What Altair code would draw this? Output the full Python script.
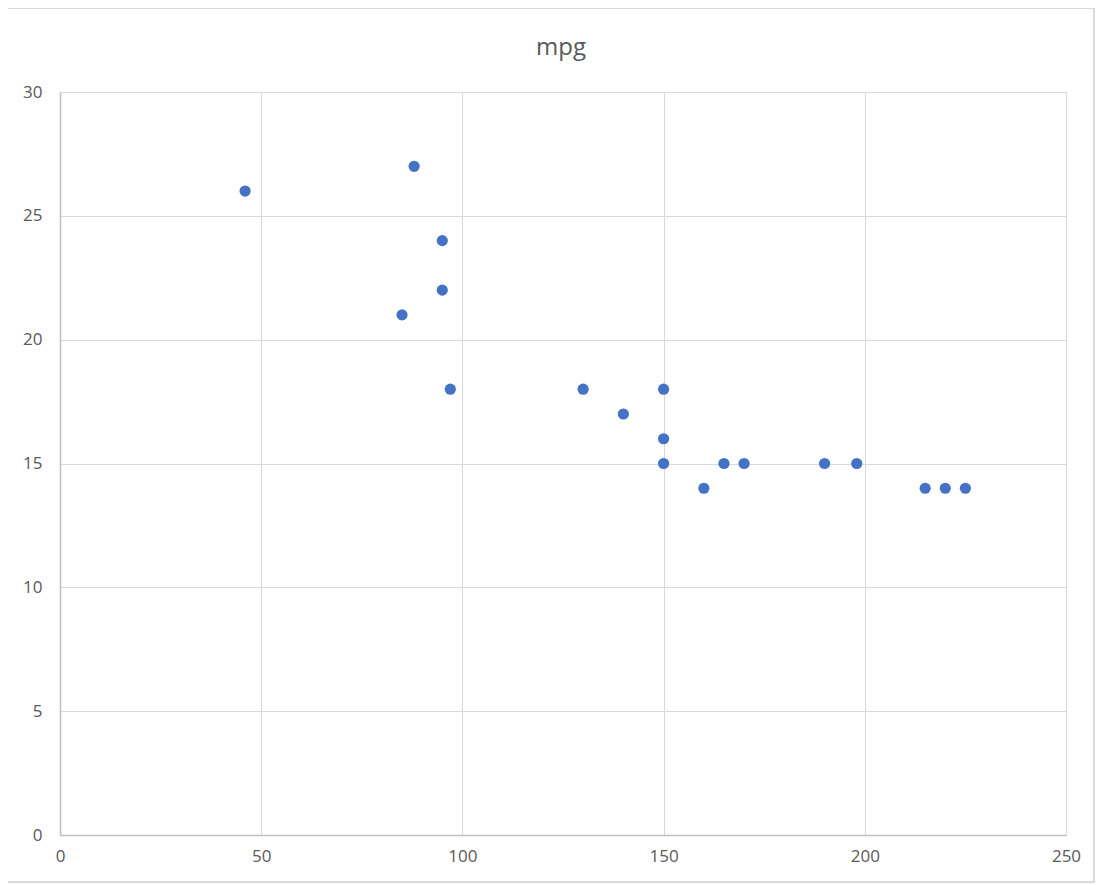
import altair as alt
import pandas as pd

disp = [46, 88, 95, 95, 85, 97, 130, 140, 150, 150, 150, 160, 165, 170, 190, 198, 215, 220, 225]
mpg = [26, 27, 24, 22, 21, 18, 18, 17, 18, 16, 15, 14, 15, 15, 15, 15, 14, 14, 14]
x_ticks = [0, 50, 100, 150, 200, 250]
y_ticks = [0, 5, 10, 15, 20, 25, 30]
title_text = ["mpg"]

df = pd.DataFrame({"x": disp, "mpg": mpg})

W, H = 1006, 743
PL, PT = 52, 84

points = alt.Chart(df).mark_circle(size=125, opacity=1, color="#4472C4").encode(
    x=alt.X("x:Q", scale=alt.Scale(domain=[0, 250], nice=False),
            axis=alt.Axis(values=x_ticks, title=None, grid=True, gridColor="#d9d9d9",
                          domainColor="#bfbfbf", domainWidth=1.5, ticks=False,
                          labelColor="#595959", labelFontSize=17, labelPadding=13,
                          labelFlush=False, labelFont="Open Sans")),
    y=alt.Y("mpg:Q", scale=alt.Scale(domain=[0, 30], nice=False),
            axis=alt.Axis(values=y_ticks, title=None, grid=True, gridColor="#d9d9d9",
                          domainColor="#bfbfbf", domainWidth=1.5, ticks=False,
                          labelColor="#595959", labelFontSize=17, labelPadding=18,
                          labelFlush=False, labelFont="Open Sans")),
)

border = alt.Chart(df).mark_rect(fill=None, stroke="#d9d9d9", strokeWidth=1.5).encode(
    x=alt.value(-PL - 3), x2=alt.value(W + 28),
    y=alt.value(-PT), y2=alt.value(H + 47),
)

title = alt.Chart(pd.DataFrame({"t": title_text})).mark_text(
    fontSize=24, color="#595959", font="Open Sans", baseline="alphabetic", align="center"
).encode(text="t:N", x=alt.value(W / 2 - 2), y=alt.value(-37))

chart = alt.layer(border, points, title).properties(
    width=W, height=H,
    padding={"left": PL, "top": PT, "right": 30, "bottom": 50},
    autosize=alt.AutoSizeParams(type="none"),
).configure_view(stroke="#d9d9d9").configure(background="white")

chart.save("out.html", embed_options={"renderer": "svg", "actions": False})
